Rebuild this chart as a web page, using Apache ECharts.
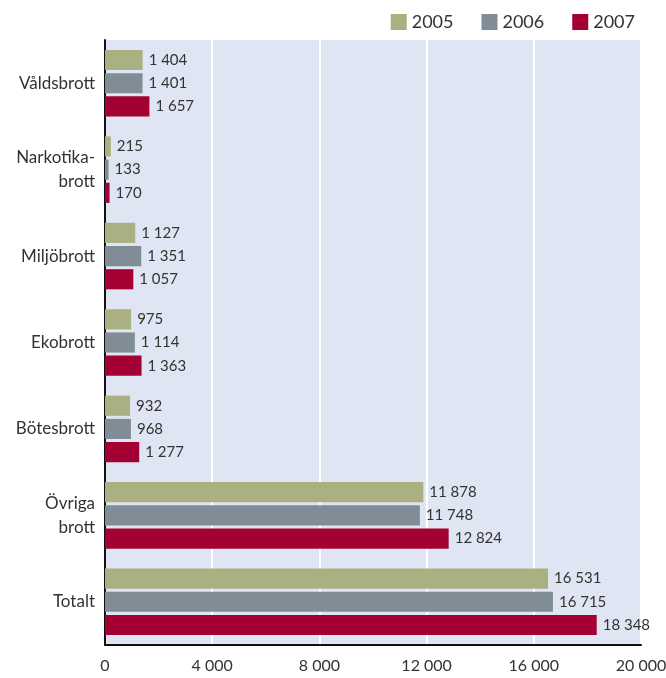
<!DOCTYPE html>
<html>
<head>
<meta charset="utf-8">
<script src="https://cdn.jsdelivr.net/npm/echarts@6/dist/echarts.min.js"></script>
<style>
  html, body { margin: 0; padding: 0; background: #fff; }
  #chart { width: 666px; height: 678px; }
</style>
</head>
<body>
<div id="chart"></div>
<script>
// brottskategorier, uppifrån och ned
const categories = ['Våldsbrott', 'Narkotika-\nbrott', 'Miljöbrott', 'Ekobrott', 'Bötesbrott', 'Övriga\nbrott', 'Totalt']
const years = ['2005', '2006', '2007']
const values2005 = [1404, 215, 1127, 975, 932, 11878, 16531]
const values2006 = [1401, 133, 1351, 1114, 968, 11748, 16715]
const values2007 = [1657, 170, 1057, 1363, 1277, 12824, 18348]
const colors = ['#abb083', '#818d96', '#a50034']

const fmt = v => String(v).replace(/\B(?=(\d{3})+(?!\d))/g, ' ')
const fontFamily = 'Lato, "Open Sans", sans-serif'

const chart = echarts.init(document.getElementById('chart'))

const series = [values2005, values2006, values2007].map((data, i) => ({
  name: years[i],
  type: 'bar',
  data: data,
  barGap: '15%',
  barCategoryGap: '23%',
  itemStyle: { color: colors[i] },
  label: {
    show: true,
    position: 'right',
    distance: 6,
    color: '#333',
    fontSize: 15,
    fontFamily: fontFamily,
    formatter: p => fmt(p.value)
  }
}))

chart.setOption({
  animation: false,
  legend: {
    data: years,
    right: 26,
    top: 8,
    itemWidth: 16,
    itemHeight: 16,
    itemGap: 28,
    icon: 'rect',
    textStyle: { fontSize: 18, color: '#333', fontFamily: fontFamily }
  },
  grid: {
    left: 105,
    right: 25,
    top: 40,
    bottom: 33,
    outerBoundsMode: 'none',
    containLabel: false,
    show: true,
    backgroundColor: '#dfe5f2',
    borderWidth: 0
  },
  xAxis: {
    type: 'value',
    min: 0,
    max: 20000,
    interval: 4000,
    axisLine: { show: true, lineStyle: { color: '#111', width: 2 } },
    axisTick: { show: false },
    splitLine: { lineStyle: { color: '#fff', width: 2 } },
    axisLabel: {
      margin: 13,
      fontSize: 16,
      color: '#333',
      fontFamily: fontFamily,
      formatter: v => fmt(v)
    }
  },
  yAxis: {
    type: 'category',
    data: categories,
    inverse: true,
    axisLine: { show: true, lineStyle: { color: '#111', width: 2 } },
    axisTick: { show: false },
    axisLabel: {
      margin: 10,
      fontSize: 17,
      lineHeight: 24,
      color: '#333',
      align: 'right',
      fontFamily: fontFamily
    }
  },
  series: series
})
</script>
</body>
</html>
